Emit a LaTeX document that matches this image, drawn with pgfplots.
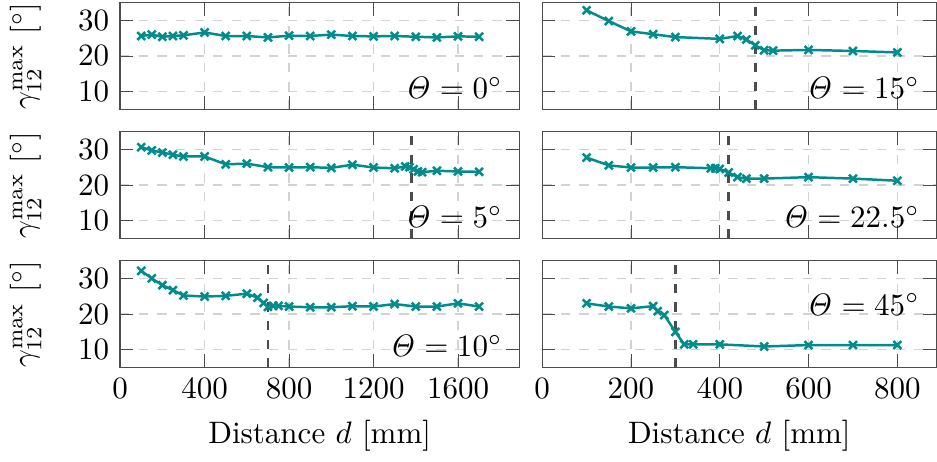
\documentclass[border=0pt]{standalone}
\usepackage{pgfplots}
\pgfplotsset{compat=1.18}
\usepgfplotslibrary{groupplots}
\definecolor{tealc}{RGB}{0,140,140}
\begin{document}
\begin{tikzpicture}
\begin{groupplot}[group style={group size=2 by 3, horizontal sep=7.4pt, vertical sep=7.1pt, xticklabels at=edge bottom, yticklabels at=edge left},
 scale only axis, height=34.5pt,
 ymin=5, ymax=35, ytick={10,20,30},
 grid=major, grid style={dashed, gray!35},
 axis line style={black!70},
 tick style={black!70},
 /pgf/number format/1000 sep={},
 mydata/.style={tealc, line width=0.8pt, mark=x, mark size=1.8pt, mark options={solid}},
 refline/.style={black!70, dashed, line width=0.8pt, forget plot},
 leftcol/.style={width=128.7pt, xmin=0, xmax=1890, xtick={0,400,800,1200,1600}, ylabel={$\gamma_{12}^{\max}$ [$^\circ$]}, ylabel shift=5pt, ylabel style={inner xsep=0pt}},
 rightcol/.style={width=127.1pt, xmin=0, xmax=888, xtick={0,200,400,600,800}},
]
% Theta = 0
\nextgroupplot[leftcol]
\addplot[mydata] coordinates {(100,25.6) (150,26.0) (200,25.4) (250,25.6) (300,25.8) (400,26.6) (500,25.6) (600,25.6) (700,25.2) (800,25.7) (900,25.6) (1000,26.0) (1100,25.6) (1200,25.5) (1300,25.6) (1400,25.4) (1500,25.2) (1600,25.5) (1700,25.4)};
\node[anchor=east] at (rel axis cs:0.985,0.2) {$\mathit{\Theta} = 0^\circ$};
% Theta = 15
\nextgroupplot[rightcol]
\addplot[refline] coordinates {(480,5) (480,35)};
\addplot[mydata] coordinates {(100,32.8) (150,29.8) (200,26.9) (250,26.1) (300,25.3) (400,24.8) (440,25.6) (460,24.6) (480,23.0) (500,21.6) (520,21.5) (600,21.7) (700,21.4) (800,21.0)};
\node[anchor=east] at (rel axis cs:0.985,0.2) {$\mathit{\Theta} = 15^\circ$};
% Theta = 5
\nextgroupplot[leftcol]
\addplot[refline] coordinates {(1380,5) (1380,35)};
\addplot[mydata] coordinates {(100,30.6) (150,29.7) (200,29.1) (250,28.5) (300,28.0) (400,28.0) (500,25.8) (600,26.0) (700,25.0) (800,24.9) (900,25.0) (1000,24.8) (1100,25.7) (1200,24.9) (1300,24.7) (1350,25.2) (1370,25.0) (1390,24.4) (1410,23.8) (1430,23.6) (1500,24.0) (1600,23.8) (1700,23.7)};
\node[anchor=east] at (rel axis cs:0.985,0.2) {$\mathit{\Theta} = 5^\circ$};
% Theta = 22.5
\nextgroupplot[rightcol]
\addplot[refline] coordinates {(420,5) (420,35)};
\addplot[mydata] coordinates {(100,27.7) (150,25.5) (200,24.9) (250,24.9) (300,25.0) (380,24.7) (390,24.7) (400,24.5) (420,23.5) (440,22.2) (460,21.8) (500,21.8) (600,22.2) (700,21.8) (800,21.2)};
\node[anchor=east] at (rel axis cs:0.985,0.2) {$\mathit{\Theta} = 22.5^\circ$};
% Theta = 10
\nextgroupplot[leftcol, xlabel={Distance $d$ [mm]}]
\addplot[refline] coordinates {(700,5) (700,35)};
\addplot[mydata] coordinates {(100,32.1) (150,30.0) (200,28.1) (250,26.7) (300,25.2) (400,24.9) (500,25.1) (600,25.7) (650,24.6) (680,23.1) (700,22.0) (725,22.3) (750,22.3) (800,22.1) (900,21.9) (1000,21.9) (1100,22.2) (1200,22.1) (1300,22.8) (1400,22.1) (1500,22.1) (1600,23.0) (1700,22.1)};
\node[anchor=east] at (rel axis cs:0.985,0.2) {$\mathit{\Theta} = 10^\circ$};
% Theta = 45
\nextgroupplot[rightcol, xlabel={Distance $d$ [mm]}]
\addplot[refline] coordinates {(300,5) (300,35)};
\addplot[mydata] coordinates {(100,23.0) (150,22.1) (200,21.6) (250,22.2) (260,20.8) (275,19.7) (300,15.0) (320,11.5) (340,11.5) (400,11.5) (500,10.9) (600,11.3) (700,11.3) (800,11.3)};
\node[anchor=east] at (rel axis cs:0.985,0.59) {$\mathit{\Theta} = 45^\circ$};
\end{groupplot}
\end{tikzpicture}
\end{document}
